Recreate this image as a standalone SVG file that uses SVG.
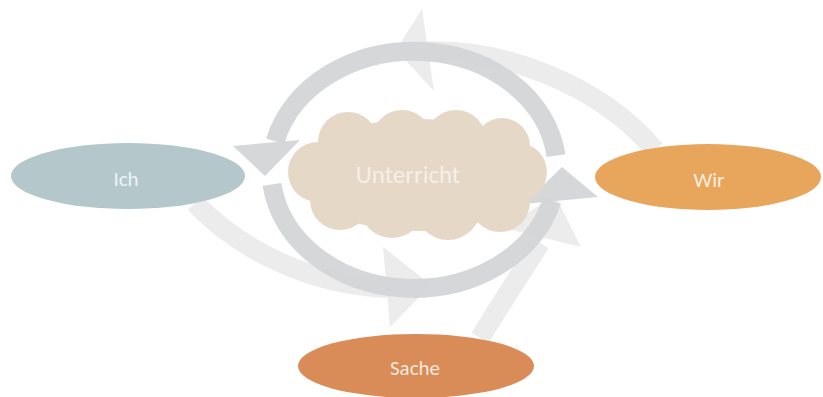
<svg xmlns="http://www.w3.org/2000/svg" width="823" height="397" viewBox="0 0 823 397">
  <style>
    .band-light { fill: none; stroke: #e9e9e9; stroke-width: 20; stroke-opacity: 0.85; }
    .head-light { fill: #e9e9e9; fill-opacity: 0.85; }
    .band-dark { fill: none; stroke: #d3d5d7; stroke-width: 19; stroke-opacity: 0.95; }
    .head-dark { fill: #d3d5d7; fill-opacity: 0.95; }
    .label { font-family: Carlito, Lato, "Open Sans", sans-serif; text-anchor: middle; }
  </style>
  <rect width="823" height="397" fill="#ffffff"/>

  <g id="connectors">
    <!-- outer light arrows between the three poles -->
    <path class="band-light" d="M 655 150 C 600 85, 500 45, 415 52"/>
    <polygon class="head-light" points="422,9 396,50 434,91"/>
    <path class="band-light" d="M 195 203 C 240 250, 310 285, 388 288"/>
    <polygon class="head-light" points="383,247 390,327 431,285"/>
    <path class="band-light" d="M 480 338 C 500 305, 522 272, 540 243"/>
    <polygon class="head-light" points="504,228 581,247 555,195"/>

    <!-- inner ring around the centre -->
    <path class="band-dark" d="M 556 155.6 A 143 118.5 0 0 0 275.2 141.3"/>
    <polygon class="head-dark" points="233,146 300,140 265,176"/>
    <path class="band-dark" d="M 272 184.4 A 143 118.5 0 0 0 552 200.7"/>
    <polygon class="head-dark" points="524,204 562,167 598,197"/>
  </g>

  <g id="unterricht">
    <g fill="#e5d8c7">
      <ellipse cx="417" cy="175" rx="118" ry="56"/>
      <circle cx="348" cy="142" r="30"/>
      <circle cx="402" cy="140" r="30"/>
      <circle cx="456" cy="140" r="30"/>
      <circle cx="502" cy="146" r="28"/>
      <circle cx="518" cy="172" r="29"/>
      <circle cx="500" cy="202" r="30"/>
      <circle cx="448" cy="207" r="33"/>
      <circle cx="392" cy="206" r="32"/>
      <circle cx="340" cy="200" r="30"/>
      <circle cx="318" cy="172" r="30"/>
    </g>
    <text class="label" x="408" y="183" font-size="25" fill="#f5efe8">Unterricht</text>
  </g>

  <g id="ich">
    <ellipse cx="128" cy="176" rx="117" ry="33" fill="#b4c7cb"/>
    <text class="label" x="126" y="186" font-size="21" fill="#eef3f4">Ich</text>
  </g>

  <g id="wir">
    <ellipse cx="708" cy="177" rx="113" ry="33" fill="#e8a65c"/>
    <text class="label" x="709" y="187" font-size="21" fill="#fbeee0">Wir</text>
  </g>

  <g id="sache">
    <ellipse cx="416" cy="366" rx="118" ry="32" fill="#d98b58"/>
    <text class="label" x="415" y="375" font-size="21" fill="#fbe9dc">Sache</text>
  </g>
</svg>
